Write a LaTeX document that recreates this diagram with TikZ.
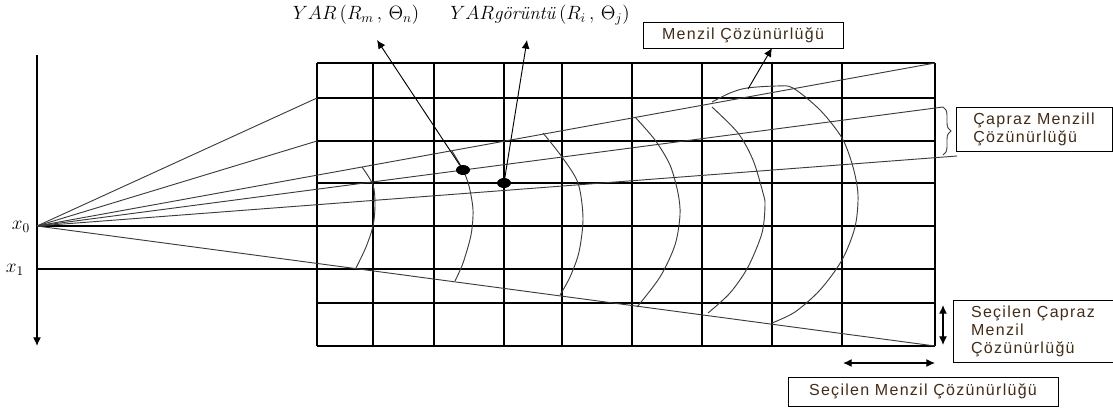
\documentclass[tikz,border=0pt]{standalone}
\usepackage{amsmath}
\usepackage{amssymb}
\usepackage{fontspec}
\usetikzlibrary{shapes.geometric,decorations.pathreplacing,calc,arrows.meta}
\newfontfamily\boxfont{Liberation Sans}[LetterSpace=8.0]
\definecolor{boxtext}{RGB}{64,44,24}
\definecolor{raygray}{RGB}{60,60,60}

\begin{document}
\begin{tikzpicture}[x=0.75pt,y=-0.75pt,
  gridline/.style={line width=0.9pt},
  ray/.style={line width=0.7pt,raygray},
  rarc/.style={line width=0.7pt,raygray},
  ptr/.style={-{Latex[length=6.5pt,width=6pt]},line width=0.7pt},
  dptr/.style={{Latex[length=6.5pt,width=6pt]}-{Latex[length=6.5pt,width=6pt]},line width=0.9pt},
  dot/.style={ellipse,fill,inner sep=0pt,minimum width=10.5pt,minimum height=7.5pt},
  lbox/.style={draw,line width=0.7pt,text=boxtext,inner sep=0pt,align=left,
    font=\boxfont\fontsize{12}{13.5}\selectfont},
  mlabel/.style={font=\fontsize{14}{16}\selectfont}]
\useasboundingbox (0,0) rectangle (1113,411);

% grid
\foreach \gx in {317,373,434,504,562,632,702,772,842,935}
  \draw[gridline] (\gx,63) -- (\gx,346);
\foreach \gy in {63,98,141,183,303,346}
  \draw[gridline] (317,\gy) -- (935,\gy);
\foreach \gy in {226,269}
  \draw[gridline] (37,\gy) -- (935,\gy);

% axis
\coordinate (axtop) at (37,55);
\coordinate (axbot) at (37,346);
\draw[ptr,line width=0.9pt] (axtop) -- (axbot);
\node[mlabel] (lx0) at (21,227) {$x_0$};
\node[mlabel] (lx1) at (15,270) {$x_1$};

% rays
\coordinate (x0) at (37,226);
\foreach \ex/\ey [count=\k] in {317/98,317/141,935/63,943/107,957/156,935/346}{
  \coordinate (r\k) at (\ex,\ey);
  \draw[ray] (x0) -- (r\k);
}

% range arcs
\draw[rarc] plot[smooth] coordinates {(362,167) (373,185) (375,205) (373,226) (366,247) (356,268)};
\draw[rarc] plot[smooth] coordinates {(452,151) (463,170) (469,186) (473,210) (471,235) (463,263) (455,281)};
\draw[rarc] plot[smooth] coordinates {(543,133) (562,157) (578,183) (583,218) (579,252) (570,277) (560,295)};
\draw[rarc] plot[smooth] coordinates {(635,117) (655,140) (670,165) (678,193) (680,215) (675,245) (660,277) (637,307)};
\draw[rarc] plot[smooth] coordinates {(712,107) (738,133) (753,160) (763,193) (765,205) (762,233) (748,267) (730,293) (708,313)};
\draw[rarc] plot[smooth] coordinates {(712,102) (730,93) (747,88) (777,86) (793,88) (820,110) (842,138) (853,167) (858,195) (855,227) (842,260) (820,290) (795,312) (772,323)};

% points and labels
\node[dot] (dA) at (463,170) {};
\node[dot] (dB) at (504,183) {};
\node[mlabel] (lA) at (356,15) {$YAR\,(R_m\,,\,\Theta_n)$};
\node[mlabel] (lB) at (540,15) {$YAR$\textit{görüntü}$\,(R_i\,,\,\Theta_j)$};
\coordinate (tA) at (377,40);
\coordinate (tB) at (527,40);
\draw[ptr] (dA) -- (tA);
\draw[ptr] (dB) -- (tB);

% boxes
\node[lbox,minimum width=150pt,minimum height=19.5pt] (bMz) at (743,35) {Menzil Çözünürlüğü};
\node[lbox,minimum width=117pt,minimum height=33pt] (bCM) at (1034,129) {Çapraz Menzill\\Çözünürlüğü};
\node[lbox,minimum width=120pt,minimum height=46.5pt] (bSCM) at (1033,331) {Seçilen Çapraz\\Menzil\\Çözünürlüğü};
\node[lbox,minimum width=202.5pt,minimum height=21.75pt] (bSM) at (923,391.5) {Seçilen Menzil Çözünürlüğü};

\coordinate (mz) at (748,89);
\coordinate (mzt) at (772,48);
\draw[ptr] (mz) -- (mzt);

\coordinate (bt) at (943,107);
\coordinate (bb) at (943,155);
\draw[ray,decorate,decoration={brace,amplitude=6pt}] (bt) -- (bb);

\coordinate (va) at (943,305);
\coordinate (vb) at (943,345);
\draw[dptr] (va) -- (vb);
\coordinate (ha) at (843,363);
\coordinate (hb) at (935,363);
\draw[dptr] (ha) -- (hb);
\end{tikzpicture}
\end{document}
